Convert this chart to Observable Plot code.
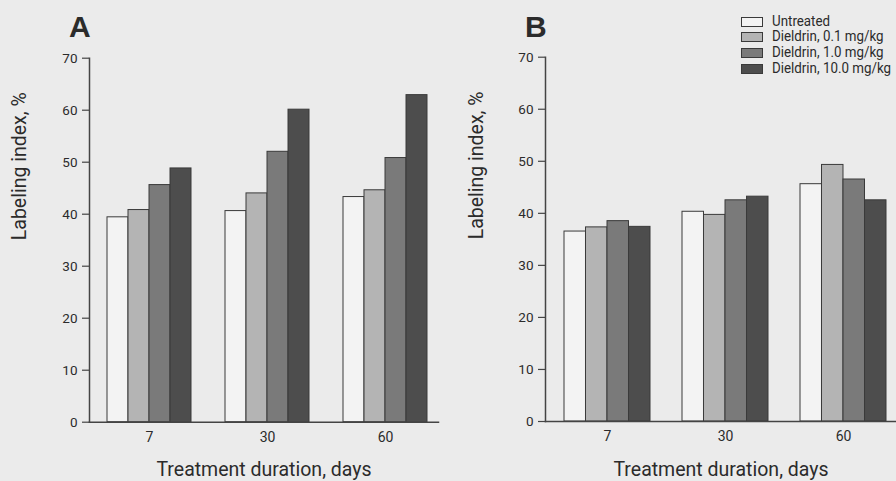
<!DOCTYPE html>
<html>
<head>
<meta charset="utf-8">
<script src="https://cdn.jsdelivr.net/npm/d3@7"></script>
<script src="https://cdn.jsdelivr.net/npm/@observablehq/plot@0.6"></script>
<style>
  html, body { margin: 0; padding: 0; background: #ebebeb; }
  #wrap { position: relative; width: 896px; height: 481px; overflow: hidden; background: #ebebeb;
    font-family: Roboto, "Liberation Sans", sans-serif; color: #2b2b2b; }
  .panel { position: absolute; top: 0; }
  .letter { position: absolute; top: 11.5px; font-family: "Liberation Sans", Arial, sans-serif; font-weight: bold;
    font-size: 30px; line-height: 30px; color: #2b2b2b; }
  .sw { position: absolute; left: 741px; width: 22px; height: 10px; box-sizing: border-box; border: 1px solid #3a3a3a; }
  .lt { position: absolute; left: 772px; font-size: 14.5px; line-height: 14px; height: 14px; white-space: nowrap; color: #2b2b2b;
    transform: scaleX(0.92); transform-origin: 0 50%; }
</style>
</head>
<body>
<div id="wrap">
  <div class="panel" id="pA" style="left:0"></div>
  <div class="panel" id="pB" style="left:448px"></div>
  <div class="letter" style="left:69px">A</div>
  <div class="letter" style="left:525px">B</div>
  <div id="legend"></div>
</div>
<script>
// ---- data ----
const days = ["7", "30", "60"];
const series = ["Untreated", "Dieldrin, 0.1 mg/kg", "Dieldrin, 1.0 mg/kg", "Dieldrin, 10.0 mg/kg"];
const colors = ["#f3f3f3", "#b4b4b4", "#7a7a7a", "#4d4d4d"];
const yTicks = [0, 10, 20, 30, 40, 50, 60, 70];

// Panel A values by day (7, 30, 60)
const aUntreated = [39.4, 40.6, 43.3];
const aDose01    = [40.8, 44.0, 44.6];
const aDose10    = [45.6, 52.0, 50.8];
const aDose100   = [48.8, 60.1, 62.9];

// Panel B values by day (7, 30, 60)
const bUntreated = [36.5, 40.3, 45.6];
const bDose01    = [37.3, 39.7, 49.3];
const bDose10    = [38.5, 42.5, 46.5];
const bDose100   = [37.4, 43.2, 42.5];

const yLabel = "Labeling index, %";
const xLabel = "Treatment duration, days";

const FONT = 'Roboto, "Liberation Sans", sans-serif';

function panel(values, o) {
  const data = [];
  series.forEach((s, i) => days.forEach((d, j) => data.push({day: d, series: s, value: values[i][j]})));
  const [r0, r1] = o.range;
  const pi = o.pad;
  const step = (r1 - r0) / (days.length - pi);
  const q = step * (1 - pi) / series.length;
  const bars = series.map((s, i) => Plot.barY(data.filter(d => d.series === s), {
    x: "day", y: "value", fill: colors[i], stroke: "#3a3a3a", strokeWidth: 1,
    insetLeft: q * i, insetRight: q * (series.length - 1 - i)
  }));
  return Plot.plot({
    width: 448, height: 481,
    marginLeft: o.ml, marginRight: o.mr, marginTop: o.mt, marginBottom: o.mb,
    style: {background: "transparent", fontFamily: FONT, fontSize: "13px", color: "#2b2b2b", overflow: "visible"},
    x: {domain: days, range: o.range, paddingInner: pi, paddingOuter: 0},
    y: {domain: [0, 70]},
    marks: [
      ...bars,
      Plot.frame({anchor: "left", stroke: "#444", strokeWidth: 1.5}),
      Plot.frame({anchor: "bottom", stroke: "#444", strokeWidth: 1.5}),
      Plot.axisX({tickSize: 0, tickPadding: 10, label: null, fontSize: 14}),
      Plot.axisY({ticks: yTicks, tickSize: 7, tickPadding: 5, label: null, stroke: "#444", strokeWidth: 1.2, fontSize: 13.5}),
      Plot.text([yLabel], {text: d => d, frameAnchor: "left", dx: o.ydx, rotate: -90, fontSize: 19.5, lineAnchor: "middle", fill: "#2b2b2b"}),
      Plot.text([xLabel], {text: d => d, frameAnchor: "bottom", dy: 48, fontSize: 19.5, lineAnchor: "middle", fill: "#2b2b2b"})
    ]
  });
}

document.getElementById("pA").appendChild(panel(
  [aUntreated, aDose01, aDose10, aDose100],
  {ml: 89, mr: 10, mt: 57.7, mb: 59.3, range: [106, 427], pad: 0.291, ydx: -70}
));
document.getElementById("pB").appendChild(panel(
  [bUntreated, bDose01, bDose10, bDose100],
  {ml: 97, mr: 0, mt: 56.7, mb: 60, range: [115, 438], pad: 0.274, ydx: -69}
));

// legend
const lg = document.getElementById("legend");
series.forEach((s, i) => {
  const sw = document.createElement("div");
  sw.className = "sw";
  sw.style.top = (16.7 + 15.6 * i) + "px";
  sw.style.background = colors[i];
  lg.appendChild(sw);
  const t = document.createElement("div");
  t.className = "lt";
  t.style.top = (14.7 + 15.6 * i) + "px";
  t.textContent = s;
  lg.appendChild(t);
});
</script>
</body>
</html>
